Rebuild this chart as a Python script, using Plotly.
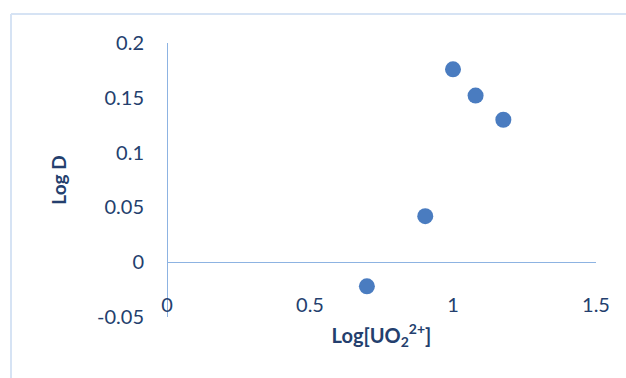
import plotly.graph_objects as go

log_uo2 = [0.699, 0.903, 1.0, 1.079, 1.176]
log_d = [-0.022, 0.042, 0.176, 0.152, 0.130]

x_ticks = [0, 0.5, 1, 1.5]
x_tick_labels = ["0", "0.5", "1", "1.5"]
y_ticks = [-0.05, 0, 0.05, 0.1, 0.15, 0.2]
y_tick_labels = ["-0.05", "0", "0.05", "0.1", "0.15", "0.2"]

text_color = "#243f6e"
axis_color = "#8db3e2"
font_family = "Lato, 'Open Sans', sans-serif"

fig = go.Figure()
fig.add_trace(go.Scatter(
    x=log_uo2, y=log_d, mode="markers",
    marker=dict(size=16, color="#4a7cc0", line=dict(width=0)),
    showlegend=False,
))

fig.update_layout(
    width=626, height=378,
    margin=dict(l=167, r=30, t=43, b=40),
    paper_bgcolor="white", plot_bgcolor="white",
    font=dict(family=font_family, color=text_color, size=20),
    xaxis=dict(
        range=[0, 1.5], tickvals=x_ticks, ticktext=x_tick_labels,
        anchor="free", position=0.159,
        showgrid=False, zeroline=True, zerolinecolor=axis_color, zerolinewidth=1,
        showline=False, ticks="",
        tickfont=dict(size=20, color=text_color),
        title=dict(text="<b>Log[UO<sub>2</sub><sup>2+</sup>]</b>", font=dict(size=20, color=text_color), standoff=13),
    ),
    yaxis=dict(
        range=[-0.05, 0.2], tickvals=y_ticks, ticktext=y_tick_labels,
        domain=[0.0712, 1],
        showgrid=False, zeroline=True, zerolinecolor=axis_color, zerolinewidth=1,
        showline=False, ticks="outside", ticklen=18, tickcolor="rgba(0,0,0,0)",
        tickfont=dict(size=20, color=text_color),
        title=dict(text="<b>Log D</b>", font=dict(size=19, color=text_color), standoff=25),
    ),
    shapes=[
        dict(type="line", xref="paper", yref="paper", x0=-0.3636, x1=1.2, y0=1.0983, y1=1.0983,
             line=dict(color="#d6e3f4", width=2)),
        dict(type="line", xref="paper", yref="paper", x0=-0.3636, x1=-0.3636, y0=-0.3, y1=1.0983,
             line=dict(color="#d6e3f4", width=2)),
    ],
)

fig.write_html("out.html")
